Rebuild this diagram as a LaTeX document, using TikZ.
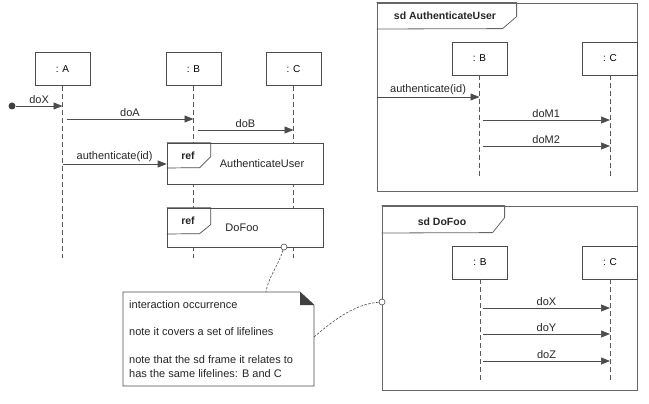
\documentclass[tikz,border=0pt]{standalone}
\usepackage{fontspec}
\setmainfont{Liberation Sans}
\usetikzlibrary{arrows.meta, positioning, calc}

\tikzset{
  lifebox/.style={draw=black!70, fill=white, line width=0.7pt, minimum width=55pt,
                  minimum height=33pt, inner sep=0pt, font=\fontsize{10}{12}\selectfont},
  lifeline/.style={draw=black!65, line width=0.7pt, dash pattern=on 5pt off 3pt},
  msg/.style={draw=black!70, line width=0.7pt, -{Triangle[length=9pt,width=7pt]}},
  lbl/.style={font=\fontsize{11}{13}\selectfont, text=black!85, inner sep=2pt},
  notetxt/.style={font=\fontsize{11}{13}\selectfont, text=black!85, inner sep=0pt, anchor=base west},
  refbox/.style={draw=black!70, fill=white, line width=0.7pt, inner sep=0pt},
  sdframe/.style={draw=black!60, line width=0.8pt, inner sep=0pt},
  tabtxt/.style={font=\bfseries\fontsize{10.5}{12}\selectfont, text=black!85},
  notelink/.style={draw=black!70, line width=0.6pt, dash pattern=on 2.5pt off 1.5pt},
  port/.style={circle, draw=black!70, fill=white, line width=0.6pt, inner sep=0pt, minimum size=6pt}
}

\begin{document}
\begin{tikzpicture}[x=1pt, y=-1pt]
  \useasboundingbox (0,0) rectangle (649,404);

  % main interaction: lifelines
  \node[lifebox] (A) at (62.5,69) {: A};
  \node[lifebox] (B) at (193.5,69) {: B};
  \node[lifebox] (C) at (293.5,69) {: C};
  \coordinate (Aend) at (62.5,258);
  \coordinate (Bend) at (193.5,258);
  \coordinate (Cend) at (293.5,258);
  \draw[lifeline] (A) -- (Aend);
  \draw[lifeline] (B) -- (Bend);
  \draw[lifeline] (C) -- (Cend);

  % messages
  \node[circle, fill=black!75, inner sep=0pt, minimum size=7pt] (start) at (12,106) {};
  \draw[msg] (start) -- (A |- start) node[lbl, midway, above] {doX};
  \draw[msg] ($(A |- 0,119)+(4,0)$) -- (B |- 0,119) node[lbl, midway, above] {doA};
  \draw[msg] ($(B |- 0,130)+(4,0)$) -- (C |- 0,130) node[lbl, midway, above] {doB};

  % interaction occurrences
  \node[refbox, minimum width=156pt, minimum height=41pt] (refAU) at (245,163.5) {};
  \draw[black!70, line width=0.7pt] (refAU.north west) -- ++(44,0) -- ++(0,14) -- ++(-11,11)
    -- (refAU.north west |- 0,168);
  \node[tabtxt] (refAUt) at (188,156) {ref};
  \node[lbl] (refAUn) at (262,164) {AuthenticateUser};
  \draw[msg] (A |- 0,164) -- (refAU.west |- 0,164) node[lbl, midway, above] {authenticate(id)};

  \node[refbox, minimum width=156pt, minimum height=39pt] (refDF) at (245,227.5) {};
  \draw[black!70, line width=0.7pt] (refDF.north west) -- ++(44,0) -- ++(0,17) -- ++(-11,9)
    -- (refDF.north west |- 0,234);
  \node[tabtxt] (refDFt) at (188,221) {ref};
  \node[lbl] (refDFn) at (242,228) {DoFoo};
  \node[port] (portA) at (284,247) {};

  % note
  \draw[black!70, line width=0.7pt, fill=white] (123,292) -- (300,292) -- (314,305) -- (314,386)
    -- (123,386) -- cycle;
  \fill[black!75] (300,292) -- (314,305) -- (300,305) -- cycle;
  \coordinate (notetop) at (266,292);
  \coordinate (noteright) at (314,337);
  \node[notetxt] (note1) at (129,308) {interaction occurrence};
  \node[notetxt] (note2) at (129,335) {note it covers a set of lifelines};
  \node[notetxt] (note3) at (129,363) {note that the sd frame it relates to};
  \node[notetxt] (note4) at (129,377) {has the same lifelines: B and C};

  % sd AuthenticateUser
  \node[sdframe, minimum width=260pt, minimum height=188pt] (sdAU) at (507,97) {};
  \draw[black!60, line width=0.8pt] (sdAU.north west) -- ++(140,0) -- ++(0,14) -- ++(-14,12)
    -- (sdAU.north west |- 0,29);
  \node[tabtxt] (sdAUt) at (445,16) {sd AuthenticateUser};
  \node[lifebox] (B1) at (479.5,58.5) {: B};
  \node[lifebox] (C1) at (610,58.5) {: C};
  \coordinate (B1end) at (479.5,178);
  \coordinate (C1end) at (610,178);
  \draw[lifeline] (B1) -- (B1end);
  \draw[lifeline] (C1) -- (C1end);
  \draw[msg] (sdAU.west |- 0,97) -- (B1 |- 0,97) node[lbl, midway, above] {authenticate(id)};
  \draw[msg] ($(B1 |- 0,120)+(3,0)$) -- (C1 |- 0,120) node[lbl, midway, above] {doM1};
  \draw[msg] ($(B1 |- 0,146)+(3,0)$) -- (C1 |- 0,146) node[lbl, midway, above] {doM2};

  % sd DoFoo
  \node[sdframe, minimum width=255pt, minimum height=184pt] (sdDF) at (509.5,298) {};
  \draw[black!60, line width=0.8pt] (sdDF.north west) -- ++(123,0) -- ++(0,12) -- ++(-12,15)
    -- (sdDF.north west |- 0,233);
  \node[tabtxt] (sdDFt) at (442,222) {sd DoFoo};
  \node[lifebox] (B2) at (480,262.5) {: B};
  \node[lifebox] (C2) at (610,262.5) {: C};
  \coordinate (B2end) at (480,383);
  \coordinate (C2end) at (610,383);
  \draw[lifeline] (B2) -- (B2end);
  \draw[lifeline] (C2) -- (C2end);
  \draw[msg] ($(B2 |- 0,308)+(3,0)$) -- (C2 |- 0,308) node[lbl, midway, above] {doX};
  \draw[msg] ($(B2 |- 0,334)+(3,0)$) -- (C2 |- 0,334) node[lbl, midway, above] {doY};
  \draw[msg] ($(B2 |- 0,361)+(3,0)$) -- (C2 |- 0,361) node[lbl, midway, above] {doZ};
  \node[port] (portF) at (382,302) {};

  % note links
  \draw[notelink] (portA) .. controls (278,266) and (268,278) .. (notetop);
  \draw[notelink] (noteright) .. controls (336,318) and (356,304) .. (portF);
\end{tikzpicture}
\end{document}
